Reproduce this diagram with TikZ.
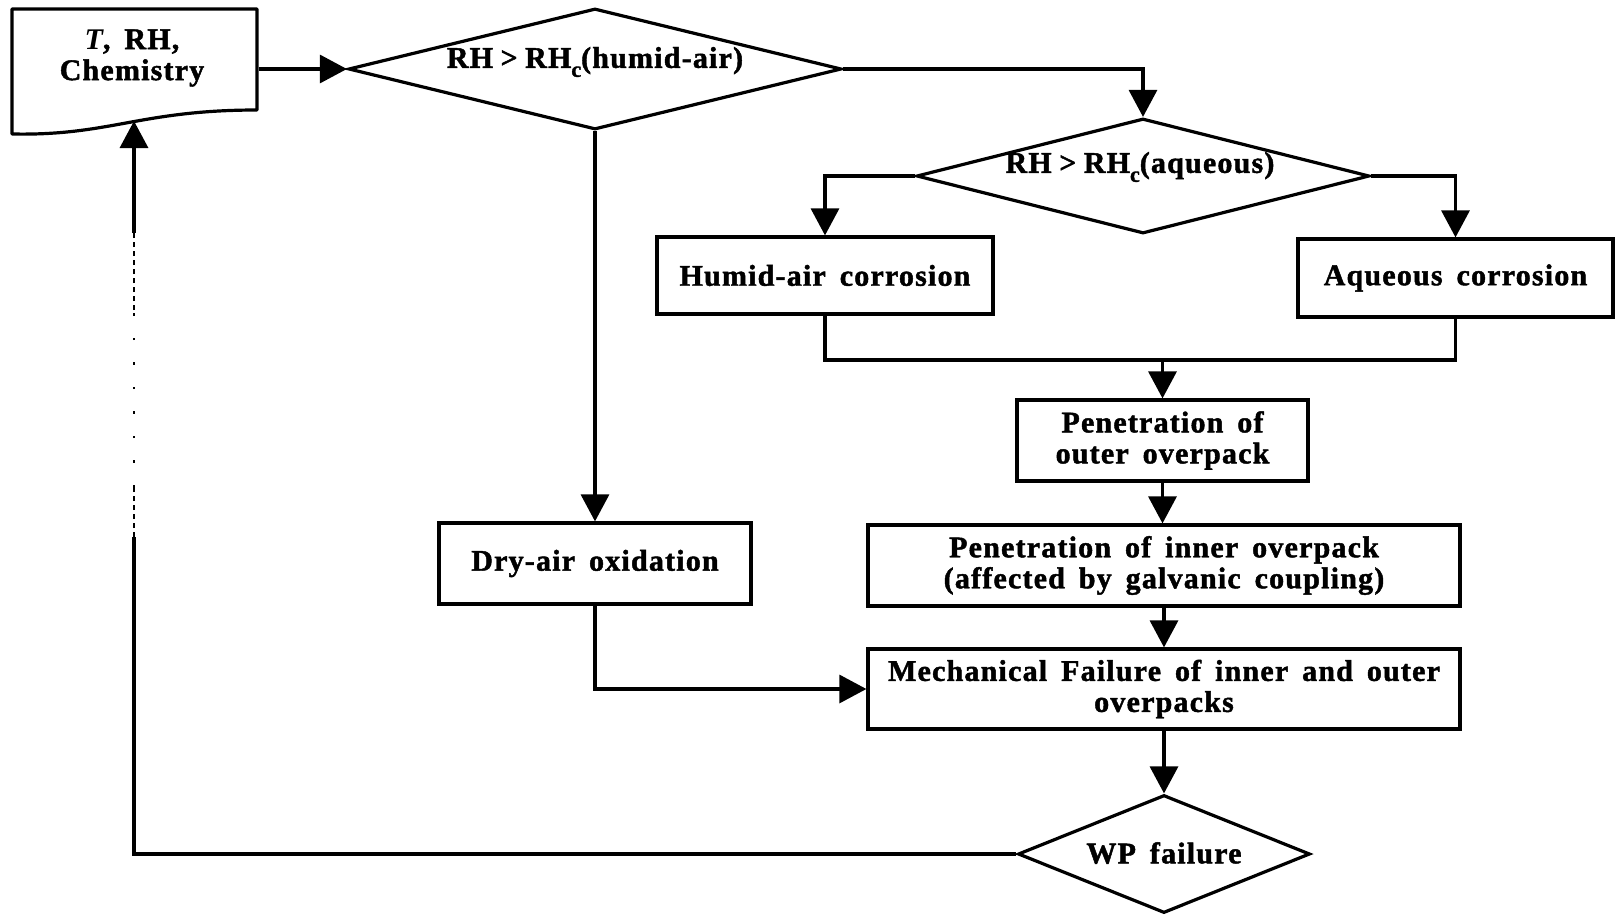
\documentclass[tikz,border=0pt]{standalone}
\usepackage{fontspec}
\setmainfont{Liberation Serif}[LetterSpace=4, WordSpace=1.6, BoldFeatures={FakeBold=1.5}]
\usetikzlibrary{shapes.geometric,arrows.meta}
\begin{document}
\begin{tikzpicture}[x=1pt,y=-1pt,
  line width=3.2pt,
  box/.style={draw, rectangle, line width=3.2pt, inner sep=0pt},
  dia/.style={draw, diamond, line width=3.2pt, inner sep=0pt},
  lbl/.style={font=\fontsize{30}{31}\selectfont\bfseries, align=center, inner sep=0pt},
  arr/.style={-{Triangle[length=27pt,width=28pt]}},
  brk/.style={line width=2.8pt, dash pattern=on 5pt off 4pt},
  spdot/.style={line width=2.4pt, dash pattern=on 2.5pt off 22pt},
]
\useasboundingbox (0,0) rectangle (1615,916);
\newcommand{\subc}{\raisebox{-0.3em}{\fontsize{22}{22}\selectfont c}}
\newcommand{\gt}{\hspace{0.25em}>\hspace{0.25em}}

% input document shape
\node[minimum width=245pt, minimum height=125pt, inner sep=0pt] (doc) at (134.5,71.5) {};
\draw[line width=3.2pt, line join=round] (12,9) -- (257,9) -- (257,110)
   .. controls (140,110) and (110,136) .. (12,134) -- cycle;
\node[lbl] (doctxt) at (132,58) {\textit{T}, RH,\\Chemistry};
\coordinate (docin) at (134,121);

% decisions
\node[dia, minimum width=493pt, minimum height=121pt] (d1) at (595,69) {};
\node[lbl] (d1txt) at (595,62) {RH\gt RH\subc(humid-air)};
\node[dia, minimum width=453pt, minimum height=115pt] (d2) at (1143,176) {};
\node[lbl] (d2txt) at (1140,167) {RH\gt RH\subc(aqueous)};
\node[dia, minimum width=292pt, minimum height=118pt] (wp) at (1164,854) {};
\node[lbl] (wptxt) at (1164,853) {WP failure};

% boxes
\node[box, minimum width=336pt, minimum height=77pt] (humid) at (825,275.5) {};
\node[lbl] at (humid) {Humid-air corrosion};
\node[box, minimum width=315pt, minimum height=78pt] (aq) at (1455.5,278) {};
\node[lbl] at (aq) {Aqueous corrosion};
\node[box, minimum width=291pt, minimum height=81pt] (pen1) at (1162.5,440.5) {};
\node[lbl] at (pen1) {Penetration of\\outer overpack};
\node[box, minimum width=592pt, minimum height=81pt] (pen2) at (1164,565.5) {};
\node[lbl] at (pen2) {Penetration of inner overpack\\(affected by galvanic coupling)};
\node[box, minimum width=592pt, minimum height=80pt] (mech) at (1164,689) {};
\node[lbl] at (mech) {Mechanical Failure of inner and outer\\overpacks};
\node[box, minimum width=312pt, minimum height=81pt] (dry) at (595,563.5) {};
\node[lbl] at (dry) {Dry-air oxidation};

% connectors
\draw[arr] (doc.east |- d1.west) -- (d1.west);
\draw[arr] (d1.east) -| (d2.north);
\draw[arr] (d2.west) -| (humid.north);
\draw[arr] (d2.east) -| (aq.north);
\coordinate (mj) at (1162.5,360);
\draw (humid.south) |- (mj);
\draw (aq.south) |- (mj);
\draw[arr] (mj) -- (pen1.north);
\draw[arr] (pen1.south) -- (pen1.south |- pen2.north);
\draw[arr] (pen2.south) -- (pen2.south |- mech.north);
\draw[arr] (d1.south) -- (dry.north);
\draw[arr] (dry.south) |- (mech.west);
\draw[arr] (mech.south) -- (wp.north);
% feedback line (partly broken in the original)
\coordinate (fa) at (134,537);
\coordinate (fb) at (134,487);
\coordinate (fc) at (134,310);
\coordinate (fd) at (134,233);
\draw (wp.west) -| (fa);
\draw[brk] (fa) -- (fb);
\draw[spdot] (fb) -- (fc);
\draw[brk] (fc) -- (fd);
\draw[arr] (fd) -- (docin);
\end{tikzpicture}
\end{document}
